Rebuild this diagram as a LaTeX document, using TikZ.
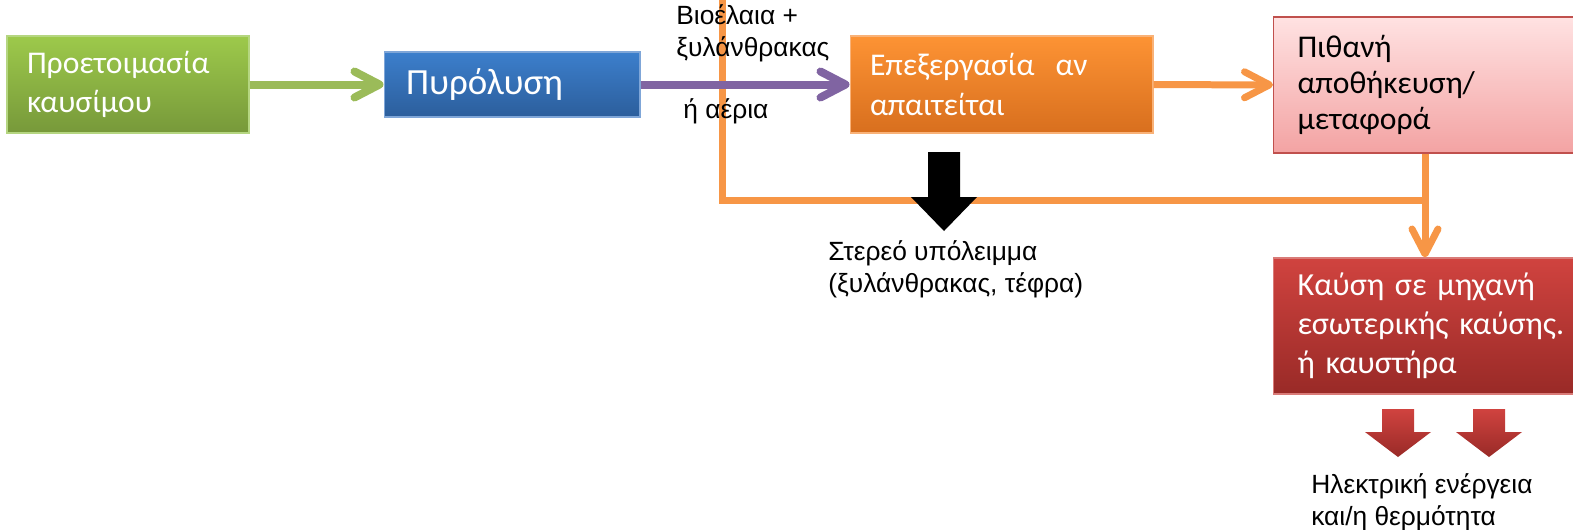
\documentclass[tikz,border=0pt]{standalone}
\usepackage{fontspec}
\setmainfont{Liberation Sans}
\newfontfamily\boxfont{Carlito}
\usepackage{tikz}
\usetikzlibrary{arrows.meta}
\definecolor{fuelA}{HTML}{9DC94B}
\definecolor{fuelB}{HTML}{77993A}
\definecolor{fuelline}{HTML}{B5D681}
\definecolor{pyroA}{HTML}{3C7FCC}
\definecolor{pyroB}{HTML}{2C5E9C}
\definecolor{pyroline}{HTML}{7FA6D8}
\definecolor{procA}{HTML}{FD9334}
\definecolor{procB}{HTML}{D86F1E}
\definecolor{procline}{HTML}{F9B278}
\definecolor{storeA}{HTML}{FFE2E2}
\definecolor{storeB}{HTML}{F3A3A3}
\definecolor{storeline}{HTML}{C0504D}
\definecolor{burnA}{HTML}{D0433F}
\definecolor{burnB}{HTML}{992A27}
\definecolor{burnline}{HTML}{D97B78}
\definecolor{arrgreen}{HTML}{9BBB59}
\definecolor{arrpurple}{HTML}{8064A2}
\definecolor{arrorange}{HTML}{F79646}
\tikzset{basic/.style={draw,rectangle,inner xsep=0.4cm,inner ysep=0pt,
                       align=left,text=white,line width=0.6pt,
                       font=\boxfont\fontsize{18}{22.5}\selectfont}}
\tikzset{fuel/.style={basic,draw=fuelline,top color=fuelA,bottom color=fuelB}}
\tikzset{pyro/.style={basic,draw=pyroline,top color=pyroA,bottom color=pyroB,
                      inner xsep=0.44cm,font=\boxfont\fontsize{21}{24}\selectfont}}
\tikzset{process/.style={basic,draw=procline,top color=procA,bottom color=procB}}
\tikzset{store/.style={basic,draw=storeline,top color=storeA,bottom color=storeB,
                       text=black,inner xsep=0.48cm,font=\boxfont\fontsize{18}{20.5}\selectfont}}
\tikzset{burn/.style={basic,draw=burnline,top color=burnA,bottom color=burnB,
                      inner xsep=0.48cm,font=\boxfont\fontsize{18.3}{22.2}\selectfont}}
\tikzset{flow/.style={line width=1.6mm,-{Straight Barb[round,length=5mm,width=5.2mm]}}}
\tikzset{note/.style={inner sep=0pt,align=left,font=\fontsize{15}{18.2}\selectfont}}
\newcommand{\dropsymbol}[3]{\path[#1] (-16,0) -- (16,0) -- (16,#2) -- (33,#2)
                        -- (0,#3) -- (-33,#2) -- (-16,#2) -- cycle;}

\begin{document}
\begin{tikzpicture}[x=0.02cm,y=-0.02cm]
    \useasboundingbox (0,0) rectangle (1573,529);
    % return line from the pyrolysis products
    \coordinate (feed) at (722,-5);
    \coordinate (merge) at (1425,200);
    \draw[arrorange,line width=1.4mm] (feed) |- (merge);
    % boxes
    \node[fuel,minimum width=4.84cm,minimum height=1.94cm,text width=4.04cm]
         (prep) at (128,84.5) {Προετοιμασία\\καυσίμου};
    \node[pyro,minimum width=5.12cm,minimum height=1.3cm,text width=4.24cm]
         (pyr) at (512,84.5) {Πυρόλυση};
    \node[process,minimum width=6.06cm,minimum height=1.94cm,text width=5.26cm]
         (proc) at (1001.5,84.5) {Επεξεργασία~ αν\\απαιτείται};
    \node[store,minimum height=2.72cm,text width=5.6cm,anchor=west]
         (store) at (1273,85) {Πιθανή\\αποθήκευση/\\μεταφορά};
    \node[burn,minimum height=2.72cm,text width=5.6cm,anchor=west]
         (burn) at (1273,326) {Καύση σε μηχανή\\εσωτερικής καύσης.\\ή καυστήρα};
    % flows
    \draw[flow,arrgreen] (prep) -- (pyr);
    \draw[flow,arrpurple] (pyr) -- (proc);
    \draw[flow,arrorange,line width=1.4mm] (proc) -- (store);
    \draw[flow,arrorange,line width=1.4mm] (store.south -| merge) -- (burn.north -| merge);
    % Labels
    \node[note,anchor=west] (oil) at (676,33.5) {Βιοέλαια +\\ξυλάνθρακας};
    \node[note,anchor=base west] (gas) at (683,118) {ή αέρια};
    \node[note,anchor=west] (char) at (828,269) {Στερεό υπόλειμμα\\(ξυλάνθρακας, τέφρα)};
    \node[note,anchor=west] (power) at (1311,502.5) {Ηλεκτρική ενέργεια\\και/η θερμότητα};
    % block arrows
    \begin{scope}[shift={(944,152)}]
      \dropsymbol{fill=black}{45}{79}
    \end{scope}
    \foreach \dx in {1398,1489}{%
      \begin{scope}[shift={(\dx,409)}]
        \dropsymbol{top color=burnA,bottom color=burnB}{23}{48}
      \end{scope}
    }
\end{tikzpicture}
\end{document}
